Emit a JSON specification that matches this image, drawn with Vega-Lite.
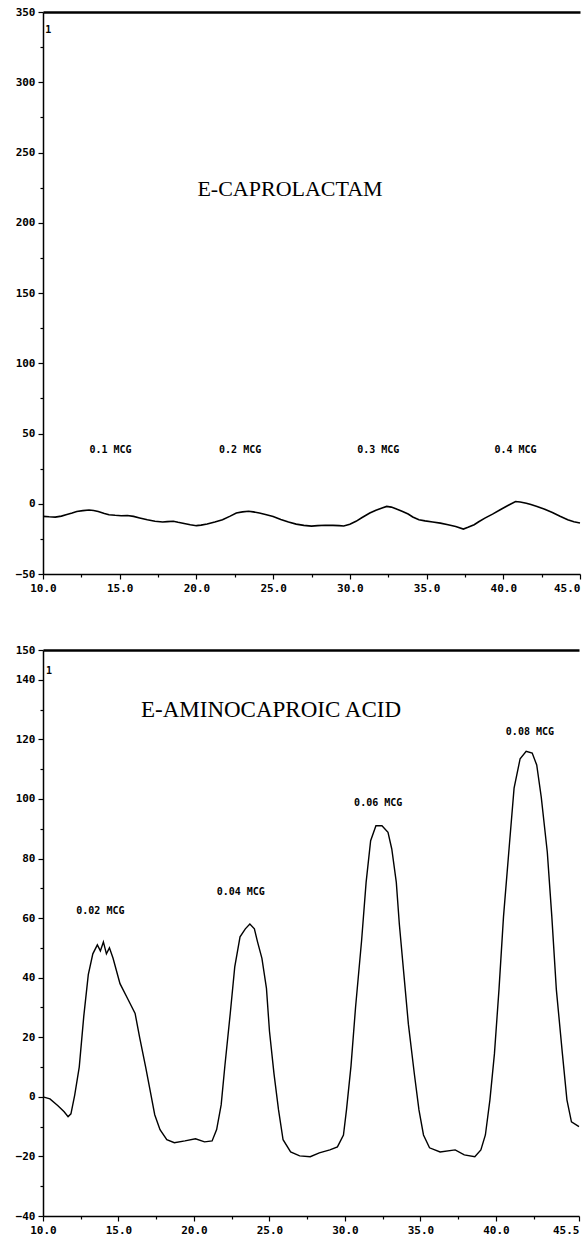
{
  "$schema": "https://vega.github.io/schema/vega-lite/v6.json",
  "background": "white",
  "padding": {"left": 15, "top": 6, "right": 2, "bottom": 0},
  "spacing": 51,
  "config": {
    "view": {"stroke": null},
    "axis": {
      "domainColor": "black", "tickColor": "black", "labelColor": "black",
      "labelFont": "DejaVu Sans Mono", "labelFontWeight": "bold", "labelFontSize": 11,
      "grid": false, "title": null, "domainWidth": 1.5, "tickWidth": 1.2
    }
  },
  "datasets": {
    "top_curve": [
      {"t": 10.0, "v": -9.0}, {"t": 10.4, "v": -9.3}, {"t": 10.8, "v": -9.5}, {"t": 11.2, "v": -8.8},
      {"t": 11.5, "v": -7.8}, {"t": 11.9, "v": -6.6}, {"t": 12.2, "v": -5.5}, {"t": 12.6, "v": -4.9},
      {"t": 13.0, "v": -4.5}, {"t": 13.3, "v": -4.8}, {"t": 13.6, "v": -5.5}, {"t": 14.0, "v": -6.9},
      {"t": 14.3, "v": -7.8}, {"t": 14.7, "v": -8.2}, {"t": 15.1, "v": -8.5}, {"t": 15.5, "v": -8.4},
      {"t": 15.9, "v": -9.0}, {"t": 16.3, "v": -10.1}, {"t": 16.8, "v": -11.4}, {"t": 17.3, "v": -12.4},
      {"t": 17.8, "v": -13.0}, {"t": 18.1, "v": -12.7}, {"t": 18.5, "v": -12.5}, {"t": 18.8, "v": -13.2},
      {"t": 19.2, "v": -14.0}, {"t": 19.6, "v": -15.0}, {"t": 20.0, "v": -15.6}, {"t": 20.3, "v": -15.2},
      {"t": 20.7, "v": -14.4}, {"t": 21.2, "v": -13.0}, {"t": 21.7, "v": -11.4}, {"t": 22.2, "v": -8.8},
      {"t": 22.6, "v": -6.6}, {"t": 23.0, "v": -5.8}, {"t": 23.4, "v": -5.3}, {"t": 23.7, "v": -5.8},
      {"t": 24.1, "v": -6.6}, {"t": 24.5, "v": -7.6}, {"t": 25.0, "v": -9.0}, {"t": 25.5, "v": -11.2},
      {"t": 26.0, "v": -13.0}, {"t": 26.5, "v": -14.5}, {"t": 27.0, "v": -15.4}, {"t": 27.5, "v": -15.9},
      {"t": 27.9, "v": -15.6}, {"t": 28.4, "v": -15.3}, {"t": 28.9, "v": -15.4}, {"t": 29.3, "v": -15.6},
      {"t": 29.6, "v": -15.8}, {"t": 30.0, "v": -14.6}, {"t": 30.4, "v": -12.5}, {"t": 30.8, "v": -9.8},
      {"t": 31.3, "v": -6.6}, {"t": 31.7, "v": -4.6}, {"t": 32.1, "v": -3.1}, {"t": 32.4, "v": -1.9},
      {"t": 32.7, "v": -2.4}, {"t": 33.0, "v": -3.6}, {"t": 33.4, "v": -5.4}, {"t": 33.8, "v": -7.3},
      {"t": 34.1, "v": -9.4}, {"t": 34.5, "v": -11.4}, {"t": 34.9, "v": -12.2}, {"t": 35.4, "v": -13.0},
      {"t": 35.9, "v": -13.8}, {"t": 36.4, "v": -14.9}, {"t": 36.9, "v": -16.2}, {"t": 37.4, "v": -18.0},
      {"t": 37.7, "v": -16.8}, {"t": 38.1, "v": -14.9}, {"t": 38.4, "v": -12.8}, {"t": 38.8, "v": -10.2},
      {"t": 39.3, "v": -7.4}, {"t": 39.8, "v": -4.3}, {"t": 40.3, "v": -1.2}, {"t": 40.8, "v": 1.6},
      {"t": 41.1, "v": 1.2}, {"t": 41.5, "v": 0.4}, {"t": 41.8, "v": -0.6}, {"t": 42.2, "v": -1.9},
      {"t": 42.7, "v": -3.9}, {"t": 43.2, "v": -6.2}, {"t": 43.7, "v": -8.9}, {"t": 44.2, "v": -11.4},
      {"t": 44.6, "v": -12.8}, {"t": 45.0, "v": -13.7}
    ],
    "top_labels": [
      {"t": 14.4, "v": 38.0, "label": "0.1 MCG"},
      {"t": 22.85, "v": 38.0, "label": "0.2 MCG"},
      {"t": 31.85, "v": 38.0, "label": "0.3 MCG"},
      {"t": 40.8, "v": 38.0, "label": "0.4 MCG"},
      {"t": 10.35, "v": 337, "label": "1"}
    ],
    "top_title": [
      {"t": 26.1, "v": 224.0, "label": "E-CAPROLACTAM"}
    ],
    "bottom_curve": [
      {"t": 10.0, "v": 0.0}, {"t": 10.46, "v": -0.7}, {"t": 10.99, "v": -3.0}, {"t": 11.4, "v": -5.0},
      {"t": 11.66, "v": -6.7}, {"t": 11.85, "v": -5.7}, {"t": 12.1, "v": 0.6}, {"t": 12.4, "v": 10.0},
      {"t": 12.7, "v": 27.0}, {"t": 13.0, "v": 41.0}, {"t": 13.3, "v": 48.0}, {"t": 13.6, "v": 51.0},
      {"t": 13.8, "v": 49.0}, {"t": 14.0, "v": 52.0}, {"t": 14.2, "v": 48.0}, {"t": 14.4, "v": 50.0},
      {"t": 14.64, "v": 46.5}, {"t": 15.1, "v": 38.0}, {"t": 15.6, "v": 33.0}, {"t": 16.1, "v": 28.0},
      {"t": 16.4, "v": 20.0}, {"t": 16.8, "v": 10.0}, {"t": 17.1, "v": 2.0}, {"t": 17.4, "v": -6.0},
      {"t": 17.75, "v": -11.0}, {"t": 18.2, "v": -14.4}, {"t": 18.7, "v": -15.4}, {"t": 19.4, "v": -14.8},
      {"t": 20.1, "v": -14.1}, {"t": 20.7, "v": -15.1}, {"t": 21.2, "v": -14.8}, {"t": 21.5, "v": -11.0},
      {"t": 21.8, "v": -2.7}, {"t": 22.05, "v": 10.6}, {"t": 22.4, "v": 27.9}, {"t": 22.7, "v": 43.6},
      {"t": 23.05, "v": 53.7}, {"t": 23.4, "v": 56.4}, {"t": 23.7, "v": 58.0}, {"t": 24.0, "v": 56.4},
      {"t": 24.2, "v": 52.2}, {"t": 24.5, "v": 46.5}, {"t": 24.8, "v": 36.4}, {"t": 25.0, "v": 22.0},
      {"t": 25.3, "v": 7.7}, {"t": 25.6, "v": -4.4}, {"t": 25.9, "v": -14.4}, {"t": 26.4, "v": -18.5},
      {"t": 27.0, "v": -19.8}, {"t": 27.7, "v": -20.1}, {"t": 28.3, "v": -18.8}, {"t": 29.0, "v": -17.8},
      {"t": 29.5, "v": -16.8}, {"t": 29.9, "v": -12.8}, {"t": 30.1, "v": -4.4}, {"t": 30.4, "v": 10.4},
      {"t": 30.7, "v": 30.0}, {"t": 31.1, "v": 52.4}, {"t": 31.4, "v": 72.0}, {"t": 31.7, "v": 86.0},
      {"t": 32.05, "v": 91.0}, {"t": 32.45, "v": 91.0}, {"t": 32.85, "v": 88.8}, {"t": 33.1, "v": 83.2},
      {"t": 33.4, "v": 72.0}, {"t": 33.6, "v": 58.0}, {"t": 33.9, "v": 41.2}, {"t": 34.2, "v": 24.4},
      {"t": 34.6, "v": 7.5}, {"t": 34.9, "v": -4.4}, {"t": 35.2, "v": -12.8}, {"t": 35.6, "v": -17.1},
      {"t": 36.3, "v": -18.5}, {"t": 37.3, "v": -17.8}, {"t": 37.9, "v": -19.5}, {"t": 38.6, "v": -20.1},
      {"t": 39.0, "v": -17.8}, {"t": 39.3, "v": -12.8}, {"t": 39.6, "v": -1.0}, {"t": 39.9, "v": 14.5},
      {"t": 40.2, "v": 36.0}, {"t": 40.5, "v": 60.5}, {"t": 40.9, "v": 85.3}, {"t": 41.2, "v": 103.6},
      {"t": 41.6, "v": 113.5}, {"t": 42.0, "v": 116.0}, {"t": 42.4, "v": 115.4}, {"t": 42.7, "v": 111.4},
      {"t": 43.0, "v": 100.6}, {"t": 43.4, "v": 82.2}, {"t": 43.7, "v": 60.5}, {"t": 44.0, "v": 36.0},
      {"t": 44.4, "v": 14.5}, {"t": 44.7, "v": -1.0}, {"t": 45.0, "v": -8.4}, {"t": 45.5, "v": -10.0}
    ],
    "bottom_labels": [
      {"t": 13.8, "v": 62.5, "label": "0.02 MCG"},
      {"t": 23.1, "v": 68.8, "label": "0.04 MCG"},
      {"t": 32.2, "v": 98.7, "label": "0.06 MCG"},
      {"t": 42.25, "v": 122.5, "label": "0.08 MCG"},
      {"t": 10.4, "v": 143, "label": "1"}
    ],
    "bottom_title": [
      {"t": 25.1, "v": 130.0, "label": "E-AMINOCAPROIC ACID"}
    ]
  },
  "vconcat": [
    {
      "width": 537,
      "height": 562,
      "resolve": {"axis": {"x": "independent", "y": "independent"}},
      "layer": [
        {
          "data": {"name": "top_curve"},
          "mark": {"type": "line", "color": "black", "strokeWidth": 1.6},
          "encoding": {
            "x": {"field": "t", "type": "quantitative",
              "scale": {"domain": [10, 45], "nice": false, "zero": false},
              "axis": {"orient": "bottom", "values": [10, 15, 20, 25, 30, 35, 40, 45], "format": ".1f", "tickSize": 5, "labelPadding": 3,
                "labelAlign": {"condition": {"test": "datum.value >= 45", "value": "right"}, "value": "center"}}},
            "y": {"field": "v", "type": "quantitative",
              "scale": {"domain": [-50, 350], "nice": false, "zero": false},
              "axis": {"orient": "left", "values": [-50, 0, 50, 100, 150, 200, 250, 300, 350], "tickSize": 5, "labelPadding": 3}}
          }
        },
        {
          "data": {"name": "top_labels"},
          "mark": {"type": "text", "font": "DejaVu Sans Mono", "fontWeight": "bold", "fontSize": 10, "color": "black", "align": "center", "baseline": "middle"},
          "encoding": {
            "x": {"field": "t", "type": "quantitative",
              "scale": {"domain": [10, 45], "nice": false, "zero": false},
              "axis": {"orient": "top", "labels": false, "ticks": false, "domainWidth": 2.5}},
            "y": {"field": "v", "type": "quantitative",
              "scale": {"domain": [-50, 350], "nice": false, "zero": false},
              "axis": {"orient": "left", "values": [-25, 25, 75, 125, 175, 225, 275, 325], "labels": false, "tickSize": 3, "domain": false}},
            "text": {"field": "label"}
          }
        },
        {
          "data": {"name": "top_title"},
          "mark": {"type": "text", "font": "Liberation Serif", "fontSize": 22, "color": "black", "align": "center", "baseline": "middle"},
          "encoding": {
            "x": {"field": "t", "type": "quantitative",
              "scale": {"domain": [10, 45], "nice": false, "zero": false},
              "axis": {"orient": "bottom", "values": [12.5, 17.5, 22.5, 27.5, 32.5, 37.5, 42.5], "labels": false, "tickSize": 3, "domain": false}},
            "y": {"field": "v", "type": "quantitative",
              "scale": {"domain": [-50, 350], "nice": false, "zero": false}, "axis": null},
            "text": {"field": "label"}
          }
        }
      ]
    },
    {
      "width": 536,
      "height": 566,
      "resolve": {"axis": {"x": "independent", "y": "independent"}},
      "layer": [
        {
          "data": {"name": "bottom_curve"},
          "mark": {"type": "line", "color": "black", "strokeWidth": 1.4},
          "encoding": {
            "x": {"field": "t", "type": "quantitative",
              "scale": {"domain": [10, 45.5], "nice": false, "zero": false},
              "axis": {"orient": "bottom", "values": [10, 15, 20, 25, 30, 35, 40, 45.5], "format": ".1f", "tickSize": 5, "labelPadding": 3,
                "labelAlign": {"condition": {"test": "datum.value >= 45", "value": "right"}, "value": "center"}}},
            "y": {"field": "v", "type": "quantitative",
              "scale": {"domain": [-40, 150], "nice": false, "zero": false},
              "axis": {"orient": "left", "values": [-40, -20, 0, 20, 40, 60, 80, 100, 120, 140, 150], "tickSize": 5, "labelPadding": 3}}
          }
        },
        {
          "data": {"name": "bottom_labels"},
          "mark": {"type": "text", "font": "DejaVu Sans Mono", "fontWeight": "bold", "fontSize": 10, "color": "black", "align": "center", "baseline": "middle"},
          "encoding": {
            "x": {"field": "t", "type": "quantitative",
              "scale": {"domain": [10, 45.5], "nice": false, "zero": false},
              "axis": {"orient": "top", "labels": false, "ticks": false, "domainWidth": 2.5}},
            "y": {"field": "v", "type": "quantitative",
              "scale": {"domain": [-40, 150], "nice": false, "zero": false},
              "axis": {"orient": "left", "values": [-30, -10, 10, 30, 50, 70, 90, 110, 130], "labels": false, "tickSize": 3, "domain": false}},
            "text": {"field": "label"}
          }
        },
        {
          "data": {"name": "bottom_title"},
          "mark": {"type": "text", "font": "Liberation Serif", "fontSize": 23, "color": "black", "align": "center", "baseline": "middle"},
          "encoding": {
            "x": {"field": "t", "type": "quantitative",
              "scale": {"domain": [10, 45.5], "nice": false, "zero": false},
              "axis": {"orient": "bottom", "values": [12.5, 17.5, 22.5, 27.5, 32.5, 37.5, 42.5], "labels": false, "tickSize": 3, "domain": false}},
            "y": {"field": "v", "type": "quantitative",
              "scale": {"domain": [-40, 150], "nice": false, "zero": false}, "axis": null},
            "text": {"field": "label"}
          }
        }
      ]
    }
  ]
}
